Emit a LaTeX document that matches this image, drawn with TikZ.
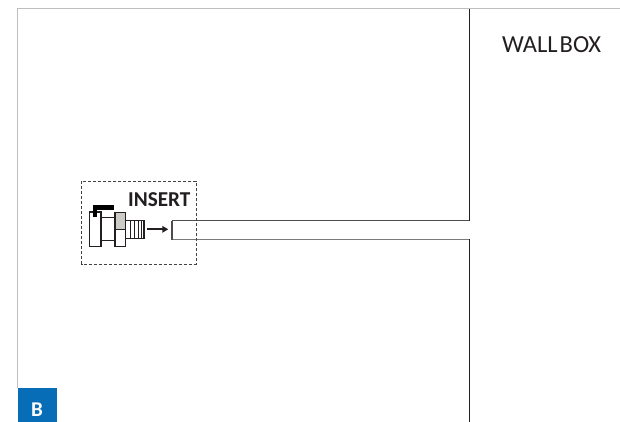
\documentclass[tikz,border=0pt]{standalone}
\usepackage{fontspec}
\setmainfont{Carlito}
\usetikzlibrary{arrows.meta}
\definecolor{frameg}{RGB}{190,190,190}
\definecolor{wallk}{RGB}{35,31,32}
\definecolor{tagblue}{RGB}{7,109,182}
\definecolor{collarg}{RGB}{205,203,198}
\tikzset{
  framel/.style={draw=frameg,line width=1.5pt},
  walll/.style={draw=wallk,line width=1.2pt},
  pipetop/.style={draw=wallk!80,line width=1.2pt},
  pipebot/.style={draw=wallk!60,line width=1.3pt},
  part/.style={draw=wallk,line width=1.2pt,fill=white},
  dashbox/.style={draw=wallk!85,line width=.9pt,dash pattern=on 3.2pt off 1.8pt},
  lbl/.style={inner sep=0pt,text=wallk}
}
\begin{document}
\begin{tikzpicture}[x=1pt,y=-1pt]
\useasboundingbox (0,0) rectangle (620,422);
\fill[white] (0,0) rectangle (620,422);
% frame
\draw[framel] (17.5,388) -- (17.5,8.5) -- (620,8.5);
% tag
\fill[tagblue] (18,388) rectangle (57,422);
\node[inner sep=0pt,text=white,font=\bfseries\fontsize{21}{21}\selectfont] (tag) at (37,410) {B};
% wall
\coordinate (walltop) at (469.5,9);
\coordinate (wallup) at (469.5,220.5);
\coordinate (walllow) at (469.5,239.5);
\coordinate (wallbot) at (469.5,422);
\coordinate (pipetl) at (172,220.5);
\coordinate (pipebl) at (172,239.5);
\draw[pipetop] (pipetl) -- (wallup);
\draw[pipebot] (pipebl) -- (walllow);
\draw[pipetop] (pipetl) -- (pipebl);
\draw[walll] (walltop) -- ([yshift=-.6pt]wallup);
\draw[walll] ([yshift=.6pt]walllow) -- (wallbot);
\node[lbl,font=\fontsize{24.5}{25}\selectfont] (wallbox) at (551.7,44.5) {WALL\hspace{2pt}BOX};
% dashed area
\draw[dashbox] (81.7,181) rectangle (196,264);
\node[lbl,font=\bfseries\fontsize{21.2}{22}\selectfont] (insert) at (159.3,199.5) {INSERT};
% fitting
\draw[part] (125.7,220.5) rectangle (144,238.5);
\foreach \x in {130,134,138,141.5} \draw[wallk,line width=1pt] (\x,220.5) -- (\x,238.5);
\draw[part] (89.5,212) rectangle (101,246.5);
\draw[part] (101,217.7) rectangle (115,240.5);
\draw[part] (115,212.5) rectangle (125.7,246.5);
\draw[part,fill=collarg] (115,212.5) rectangle (125.7,229.3);
\fill[black] (92.7,205) rectangle (114,210);
\fill[black] (92.7,210) rectangle (97.3,216.7);
% arrow
\coordinate (arrs) at (147.3,229.3);
\coordinate (arre) at (168.3,229.3);
\draw[wallk,line width=1.7pt,-{Triangle[length=6pt,width=6.5pt]}] (arrs) -- (arre);
\end{tikzpicture}
\end{document}
